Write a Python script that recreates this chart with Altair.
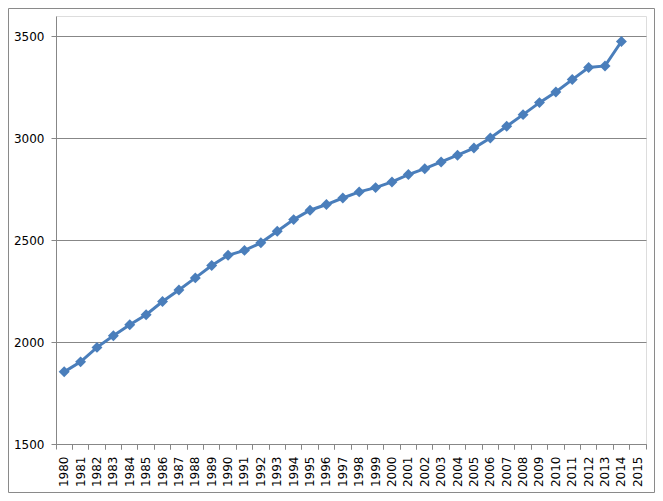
import altair as alt
import pandas as pd

years = [str(y) for y in range(1980, 2015)]
values = [1854, 1903, 1974, 2031, 2085, 2134, 2199, 2256, 2315, 2376,
          2426, 2450, 2487, 2544, 2601, 2647, 2675, 2707, 2737, 2758,
          2786, 2822, 2851, 2884, 2917, 2952, 3001, 3059, 3116, 3175,
          3227, 3288, 3347, 3355, 3475]
tick_labels = [str(y) for y in range(1980, 2016)]
y_ticks = [1500, 2000, 2500, 3000, 3500]

df = pd.DataFrame({"year": years, "value": values})

FONT = "DejaVu Sans"
GRAY = "#878787"
BLUE = "#4A7EBB"

xscale = alt.Scale(type="band", domain=tick_labels, paddingInner=0, paddingOuter=0)
yscale = alt.Scale(domain=[1500, 3600], nice=False, zero=False)

line = alt.Chart(df).mark_line(
    color=BLUE, strokeWidth=3,
    point=alt.OverlayMarkDef(shape="diamond", size=120, filled=True, color=BLUE, opacity=1),
).encode(
    x=alt.X("year:O", scale=xscale, title=None,
            axis=alt.Axis(labelAngle=270, ticks=False, labelPadding=12, grid=False,
                          domain=True, domainColor=GRAY, labelFont=FONT, labelFontSize=12,
                          labelColor="#000000", labelOverlap=False)),
    y=alt.Y("value:Q", scale=yscale, title=None,
            axis=alt.Axis(values=y_ticks, format="d", grid=True, gridColor=GRAY,
                          domainColor=GRAY, tickColor=GRAY, tickSize=5, labelPadding=7,
                          labelFont=FONT, labelFontSize=12, labelColor="#000000")),
)

ticks0 = alt.Chart(df).mark_point(opacity=0).encode(
    x=alt.X("year:O", scale=xscale, title=None,
            axis=alt.Axis(orient="bottom", bandPosition=0, labels=False, domain=False,
                          grid=False, tickSize=5, tickColor=GRAY)),
    y=alt.Y("value:Q", scale=yscale),
)
ticks1 = alt.Chart(df).mark_point(opacity=0).encode(
    x=alt.X("year:O", scale=xscale, title=None,
            axis=alt.Axis(orient="bottom", bandPosition=1, labels=False, domain=False,
                          grid=False, tickSize=5, tickColor=GRAY)),
    y=alt.Y("value:Q", scale=yscale),
)

frame = alt.Chart(pd.DataFrame({"a": [0]})).mark_rect(
    fill=None, stroke="#8A8A8A", strokeWidth=1, clip=False
).encode(
    x=alt.value(-47.5), x2=alt.value(598.5), y=alt.value(-7.5), y2=alt.value(476.5)
)

chart = alt.layer(frame, line, ticks0, ticks1).resolve_axis(x="independent").properties(
    width=590, height=428,
    autosize=alt.AutoSizeParams(type="none"),
    padding={"left": 48, "top": 8, "right": 9, "bottom": 49},
).configure_view(stroke=None).configure(background="#FFFFFF")

chart.save("out.html", embed_options={"renderer": "svg", "actions": False})
